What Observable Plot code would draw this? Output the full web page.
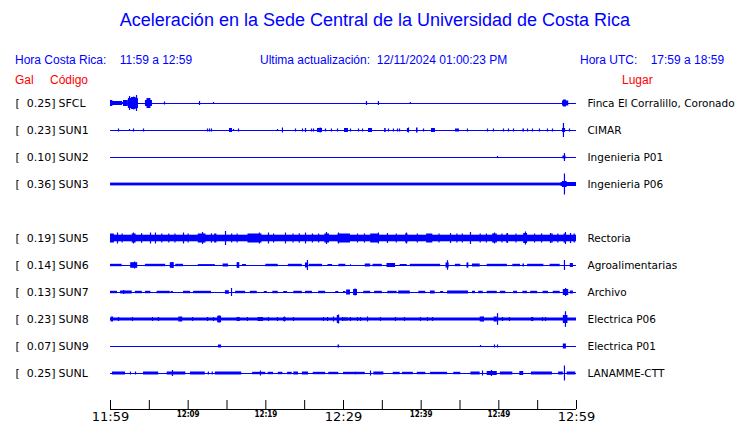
<!DOCTYPE html>
<html>
<head>
<meta charset="utf-8">
<script src="https://cdn.jsdelivr.net/npm/d3@7"></script>
<script src="https://cdn.jsdelivr.net/npm/@observablehq/plot@0.6"></script>
<style>
  body { margin: 0; background: #fff; }
  #wrap { position: relative; width: 740px; height: 423px; overflow: hidden; font-family: "Liberation Sans", Arial, sans-serif; }
  .t { position: absolute; white-space: pre; }
  #title { left: 0; width: 750px; text-align: center; top: 10px; font-size: 18px; color: #0000ff; }
  .info { top: 53px; font-size: 12px; color: #0000ff; }
  .hdr { top: 73px; font-size: 12px; color: #ff0000; }
  #chart { position: absolute; left: 0; top: 90px; }
</style>
</head>
<body>
<div id="wrap">
  <div class="t" id="title">Aceleración en la Sede Central de la Universidad de Costa Rica</div>
  <div class="t info" style="left:15px">Hora Costa Rica:    11:59 a 12:59</div>
  <div class="t info" style="left:260px">Ultima actualización:  12/11/2024 01:00:23 PM</div>
  <div class="t info" style="left:580px">Hora UTC:    17:59 a 18:59</div>
  <div class="t hdr" style="left:15px">Gal</div>
  <div class="t hdr" style="left:50px">Código</div>
  <div class="t hdr" style="left:622px">Lugar</div>
  <div id="chart"></div>
</div>
<script>
// ---- data (time in minutes after 11:59; amplitude in trace counts) ----
const codes  = ["SFCL","SUN1","SUN2","SUN3","SUN5","SUN6","SUN7","SUN8","SUN9","SUNL"];
const rows   = [0, 1, 2, 3, 5, 6, 7, 8, 9, 10];
const peaks  = ["0.25","0.23","0.10","0.36","0.19","0.14","0.13","0.23","0.07","0.25"];
const places = ["Finca El Corralillo, Coronado","CIMAR","Ingenieria P01","Ingenieria P06","Rectoria",
                "Agroalimentarias","Archivo","Electrica P06","Electrica P01","LANAMME-CTT"];

// bursts: [start, end, half amplitude]
const burstsSFCL = [[0,1.55,2],[0,0.3,3],[1.55,1.93,1],[1.67,2.3,3],[2.3,3.6,5],[2.7,3.3,6],[4.5,5.4,3],[4.7,5.2,5],[58.2,59.0,2.5],[58.32,58.7,3.5]];
const burstsSUN1 = [[15.32,15.71,2],[26.65,27.3,2],[30.13,30.64,2],[33.22,33.73,2],[35.3,35.5,2],[39.4,39.6,2.5],[41.33,41.84,2],[44.42,44.93,1.5],[53.1,53.3,1.5],[58.2,58.6,2]];
const burstsSUN2 = [[58.25,58.65,1.5]];
const burstsSUN3 = [[0,60,1.4],[58.0,60,2],[58.2,58.8,3]];
const burstsSUN5 = [[0,60,3.3],[0,0.5,4.5],[2.8,3.3,4.5],[11.3,12.3,4.5],[13.4,13.7,4.5],[17.7,19.5,4.5],[27.6,28.2,4.5],[29.3,30.9,4.5],[33.5,34.6,4.5],[38.0,38.3,4.5],[40.7,41.5,4.5],[49.2,49.8,4.5],[51.0,51.2,4.5],[53.2,53.7,5],[56.8,57.0,4.5],[58.4,58.7,4.5]];
const burstsSUN6 = [[0,1.5,1.2],[2.6,3.5,2.8],[4.5,7.1,1.2],[7.7,8.2,2.8],[8.4,9.4,1.2],[11.3,13.5,0.9],[14.5,15.2,1.5],[16.3,16.6,2.8],[17.0,17.5,1],[20.0,21.6,1.2],[22.9,24.7,1.2],[25.1,25.5,2.5],[25.6,27.3,1.2],[28.0,28.6,1],[29.4,30.3,1.2],[30.9,31.0,1],[32.8,33.5,1.5],[33.8,35.0,1.2],[35.6,36.7,2],[37.3,38.2,1],[38.6,42.5,1.2],[43.2,43.6,2.5],[44.4,45.1,1.2],[45.9,46.1,2.5],[46.6,47.6,1.5],[48.5,51.1,1.2],[51.8,52.8,1.2],[53.1,53.3,1.5],[53.7,55.8,1.2],[56.6,57.9,1.2],[59.2,59.6,2]];
const burstsSUN7 = [[0,0.9,1.2],[1.3,2.8,1.5],[3.2,4.1,1.2],[4.5,5.2,1.2],[6.0,7.7,1.2],[7.8,8.1,1],[9.4,10.3,1.2],[10.7,13.0,1.2],[14.8,15.3,1.8],[16.1,17.4,1.2],[18.0,18.9,1.2],[19.8,20.2,1],[20.9,21.6,1.2],[22.3,22.8,1],[23.6,24.7,1.2],[25.1,26.0,1.2],[26.8,27.7,1.2],[29.0,29.4,1],[30.0,30.3,1],[30.4,30.9,2.5],[31.3,31.8,3],[32.6,33.5,1.2],[34.0,35.0,1.2],[35.7,36.9,1.2],[37.1,38.6,1.5],[39.7,40.6,1.2],[41.2,41.8,1.5],[42.5,42.9,1],[43.4,46.1,1.5],[46.6,47.0,1.2],[47.4,48.0,1.2],[48.5,49.8,1.2],[50.2,50.9,1.2],[51.9,52.4,1.2],[53.1,53.7,1.2],[54.1,55.0,1.2],[55.7,56.4,1.2],[57.0,57.9,1.2],[58.3,59.0,3],[59.2,59.6,1.5]];
const burstsSUN8 = [[0,60,1.5],[0.1,0.4,2.5],[8.8,9.3,2.5],[13.8,14.3,3.3],[16.3,16.7,2],[19.0,19.7,2],[22.3,22.6,2],[29.2,29.5,4],[30.0,30.6,1.5],[47.6,48.1,2.5],[49.4,49.8,2.5],[54.2,54.5,2],[58.3,58.9,4]];
const burstsSUN9 = [[13.9,14.3,1.5],[29.3,29.5,1.5],[58.3,58.7,2.5]];
const burstsSUNL = [[0.25,1.93,1.5],[4.25,6.2,1.5],[7.3,9.7,1.5],[10.3,12.2,1.5],[13.5,16.9,1.5],[18.3,20.0,1.2],[20.3,21.0,1.2],[21.6,22.2,1.2],[22.8,23.4,1.2],[23.6,24.2,1.5],[24.7,25.5,1.5],[26.1,27.7,1.2],[28.1,29.4,1.2],[30.0,31.7,1.2],[31.5,32.8,1.2],[33.9,35.2,1.5],[36.4,37.3,1.2],[37.6,39.0,1.2],[39.5,40.6,1.2],[41.2,43.4,1.2],[44.2,45.1,1.2],[46.4,47.6,1.5],[48.5,49.8,2],[50.2,51.8,1.5],[52.7,53.2,2],[54.2,56.9,1.5],[57.7,58.3,1.5],[58.8,59.9,1.5]];

// spikes: [time, half amplitude]
const spikesSFCL = [[2.45,7],[2.83,6],[3.0,6.5],[3.35,8],[6.95,1.5],[11.46,2],[13.26,1],[32.96,2],[34.5,2],[38.6,1]];
const spikesSUN1 = [[1.03,1.5],[2.45,1],[2.96,1.5],[4.25,1.5],[12.49,1.5],[12.75,1.5],[13.0,1.5],[15.84,1],[16.48,1.5],[21.5,1],[22.14,2.5],[23.82,1.5],[24.72,1.5],[25.11,2],[25.88,1.5],[26.14,1.5],[27.0,2.5],[27.68,1.5],[28.45,1.5],[29.23,1.5],[30.9,1.5],[31.93,1.5],[32.45,1.5],[35.79,1.5],[36.43,1.5],[36.95,1.5],[37.21,1.5],[38.24,2],[38.37,2.5],[40.3,1.5],[45.96,1.5],[48.54,1.5],[49.31,1.5],[50.6,1.5],[51.24,1.5],[51.89,1.5],[53.69,1.5],[54.33,1.5],[55.23,1.5],[56.26,1.5],[56.91,1.5],[58.32,7],[59.1,1.5]];
const spikesSUN2 = [[49.83,1],[58.45,4]];
const spikesSUN3 = [[58.45,10.5]];
const spikesSUN5 = [[0.9,5.5],[1.5,4.5],[2.96,5.5],[4.0,4.8],[5.15,5.5],[5.79,5.5],[6.6,4.5],[7.5,4.5],[8.3,4.6],[9.4,5.5],[10.0,4.5],[11.85,6],[13.0,4.7],[14.81,7],[15.6,4.5],[16.3,4.6],[19.18,5.5],[20.34,5.5],[21.0,4.6],[22.53,5.5],[23.5,4.5],[24.3,4.7],[25.11,5.5],[26.0,4.5],[26.8,4.6],[27.81,6],[29.36,5.5],[31.8,4.5],[32.7,4.6],[34.5,5.5],[35.66,5],[36.8,4.5],[38.11,5.5],[39.5,4.6],[42.3,4.5],[43.78,5],[44.6,4.6],[45.3,4.5],[46.35,6],[47.6,4.6],[48.4,4.5],[49.44,5.5],[50.4,4.6],[51.11,5],[52.2,4.6],[53.43,6.5],[54.6,4.5],[55.5,4.6],[56.65,5],[57.6,4.5],[58.58,6],[59.23,5],[59.7,4.6]];
const spikesSUN6 = [[3.1,3.5],[8.0,3],[16.5,3],[25.36,5],[43.39,4.8],[46.0,2.5],[58.45,5]];
const spikesSUN7 = [[1.7,2],[15.58,4],[31.5,3.5],[58.6,4]];
const spikesSUN8 = [[1.03,2],[2.83,2],[5.41,2],[6.18,2],[10.56,2],[12.49,2],[13.26,2],[14.0,3.5],[16.5,2],[17.64,2],[19.3,2],[20.34,2],[21.5,2],[22.4,2.5],[23.56,2],[27.42,2],[27.94,2],[28.71,2.5],[29.36,4.5],[29.87,2],[30.9,2],[31.8,2],[32.19,2],[33.09,2.5],[34.76,2],[36.69,2],[37.85,2],[39.91,2],[40.81,2],[41.46,2],[48.0,2.5],[49.83,5.8],[50.47,2],[51.37,2],[54.33,2],[55.62,2],[56.01,2],[58.58,7.8]];
const spikesSUN9 = [[47.64,1],[49.44,1.5],[49.83,1.5]];
const spikesSUNL = [[2.57,1.5],[3.22,1.5],[7.98,3],[12.6,1.5],[13.1,1.5],[19.31,2.5],[33.48,2.5],[47.9,2.5],[49.05,3],[58.45,7.5]];

const tickMinutes = [0,5,10,15,20,25,30,35,40,45,50,55,60];
const tickLabels  = [[0,"11:59"],[10,"12:09"],[20,"12:19"],[30,"12:29"],[40,"12:39"],[50,"12:49"],[60,"12:59"]];
const majorLabels = ["11:59","12:29","12:59"];

// ---- build tables ----
const burstSets = [burstsSFCL,burstsSUN1,burstsSUN2,burstsSUN3,burstsSUN5,burstsSUN6,burstsSUN7,burstsSUN8,burstsSUN9,burstsSUNL];
const spikeSets = [spikesSFCL,spikesSUN1,spikesSUN2,spikesSUN3,spikesSUN5,spikesSUN6,spikesSUN7,spikesSUN8,spikesSUN9,spikesSUNL];
const stations = codes.map((c, i) => ({code: c, row: rows[i], peak: peaks[i], place: places[i]}));
const COUNTS_PER_ROW = 27;
const bursts = [], spikes = [];
burstSets.forEach((set, i) => set.forEach(([a, b, h]) => bursts.push({row: rows[i], t1: a, t2: b, h: h / COUNTS_PER_ROW})));
spikeSets.forEach((set, i) => set.forEach(([t, h]) => spikes.push({row: rows[i], t, h: h / COUNTS_PER_ROW})));
const axisRow = 10 + 36 / COUNTS_PER_ROW;
const tickTop = 10 + 27 / COUNTS_PER_ROW;

const blue = "#0000ff";
const chart = Plot.plot({
  width: 740,
  height: 333,
  x: {domain: [0, 60], range: [110, 576], axis: null},
  y: {domain: [0, 10], range: [13, 283], axis: null},
  marks: [
    Plot.ruleY(stations, {y: "row", x1: 0, x2: 60, stroke: blue, strokeWidth: 1}),
    Plot.rect(bursts, {x1: "t1", x2: "t2", y1: d => d.row - d.h, y2: d => d.row + d.h, fill: blue}),
    Plot.ruleX(spikes, {x: "t", y1: d => d.row - d.h, y2: d => d.row + d.h, stroke: blue, strokeWidth: 1.2}),
    // station labels
    Plot.text(stations, {x: 0, y: "row", text: () => "[", dx: -95, textAnchor: "start", fontSize: 11, fill: "#000", fontFamily: "DejaVu Sans"}),
    Plot.text(stations, {x: 0, y: "row", text: d => d.peak + "]", dx: -55, textAnchor: "end", fontSize: 11, fill: "#000", fontFamily: "DejaVu Sans"}),
    Plot.text(stations, {x: 0, y: "row", text: "code", dx: -52, textAnchor: "start", fontSize: 11, fill: "#000", fontFamily: "DejaVu Sans"}),
    Plot.text(stations, {x: 60, y: "row", text: "place", dx: 11, textAnchor: "start", fontSize: 10.5, fill: "#000", fontFamily: "DejaVu Sans"}),
    // time axis
    Plot.ruleY([axisRow], {x1: 0, x2: 60, stroke: "#000"}),
    Plot.ruleX(tickMinutes, {x: d => d, y1: tickTop, y2: axisRow, stroke: "#000"}),
    Plot.text(tickLabels.filter(d => majorLabels.includes(d[1])), {x: d => d[0], y: axisRow, text: d => d[1], dy: 7, fontSize: 13, fill: "#000", fontFamily: "DejaVu Sans"}),
    Plot.text(tickLabels.filter(d => !majorLabels.includes(d[1])), {x: d => d[0], y: axisRow, text: d => d[1], dy: 5, fontSize: 8, fill: "#000", fontFamily: "DejaVu Sans Condensed, DejaVu Sans", fontWeight: "bold"})
  ]
});
document.getElementById("chart").appendChild(chart);
</script>
</body>
</html>
